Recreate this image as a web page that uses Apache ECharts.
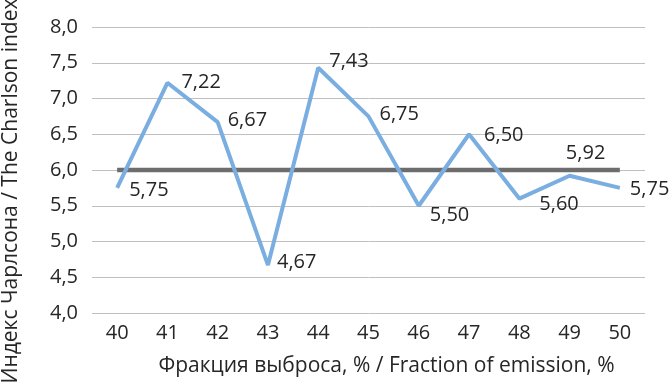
<!DOCTYPE html>
<html><head><meta charset="utf-8">
<script src="https://cdn.jsdelivr.net/npm/echarts@6/dist/echarts.min.js"></script>
<style>html,body{margin:0;padding:0;background:#fff}#c{width:672px;height:383px}</style>
</head><body><div id="c"></div>
<script>
var categories = ['40','41','42','43','44','45','46','47','48','49','50'];
var charlsonValues = [5.75, 7.22, 6.67, 4.67, 7.43, 6.75, 5.50, 6.50, 5.60, 5.92, 5.75];
var referenceValues = [6.0, 6.0, 6.0, 6.0, 6.0, 6.0, 6.0, 6.0, 6.0, 6.0, 6.0];
var labelPositions = ['right','right','right','right','right','right','right','right','right','top','right'];
var labelShifts = [[2,2],[4,0],[0,-2],[-1,-3],[1,-6],[1,-2],[1,10],[5,1],[10,6],[16,-2],[0,1]];
var yAxisTitle = 'Индекс Чарлсона / The Charlson index';
var xAxisTitle = 'Фракция выброса, % / Fraction of emission, %';

var font = '"Open Sans", sans-serif';
var textColor = '#262626';
var chart = echarts.init(document.getElementById('c'));
chart.setOption({
  animation: false,
  grid: { left: 92, right: 27, top: 27, bottom: 70, containLabel: false, outerBoundsMode: 'none' },
  xAxis: {
    type: 'category', data: categories, boundaryGap: true,
    axisLine: { show: false }, axisTick: { show: false },
    axisLabel: { color: textColor, fontFamily: font, fontSize: 20, margin: 10 },
    name: xAxisTitle, nameLocation: 'middle', nameGap: 43,
    nameTextStyle: { color: textColor, fontFamily: font, fontSize: 21, padding: [0, 0, 0, 36] }
  },
  yAxis: {
    type: 'value', min: 4, max: 8, interval: 0.5,
    axisLine: { show: false }, axisTick: { show: false },
    splitLine: { lineStyle: { color: '#bfbfbf', width: 1 } },
    axisLabel: { color: textColor, fontFamily: font, fontSize: 20, margin: 14,
      formatter: function (v) { return v.toFixed(1).replace('.', ','); } },
    name: yAxisTitle, nameLocation: 'middle', nameGap: 70, nameRotate: 90,
    nameTextStyle: { color: textColor, fontFamily: font, fontSize: 21, padding: [0, 42, 0, 0] }
  },
  series: [
    {
      type: 'line', data: referenceValues, symbol: 'none', z: 2,
      lineStyle: { color: '#6d6d6d', width: 4.5 }
    },
    {
      type: 'line', symbol: 'circle', symbolSize: 2, showSymbol: true, z: 3,
      itemStyle: { color: 'rgba(0,0,0,0)', borderWidth: 0 },
      lineStyle: { color: '#7aaee0', width: 4 },
      data: charlsonValues.map(function (v, i) {
        return { value: v, label: { show: true, position: labelPositions[i] } };
      }),
      label: {
        show: true, color: textColor, fontFamily: font, fontSize: 20, distance: 9,
        formatter: function (p) { return p.value.toFixed(2).replace('.', ','); }
      },
      labelLayout: function (p) {
        var s = labelShifts[p.dataIndex] || [0, 0];
        return { dx: s[0], dy: s[1], hideOverlap: false };
      }
    }
  ]
});
</script></body></html>
